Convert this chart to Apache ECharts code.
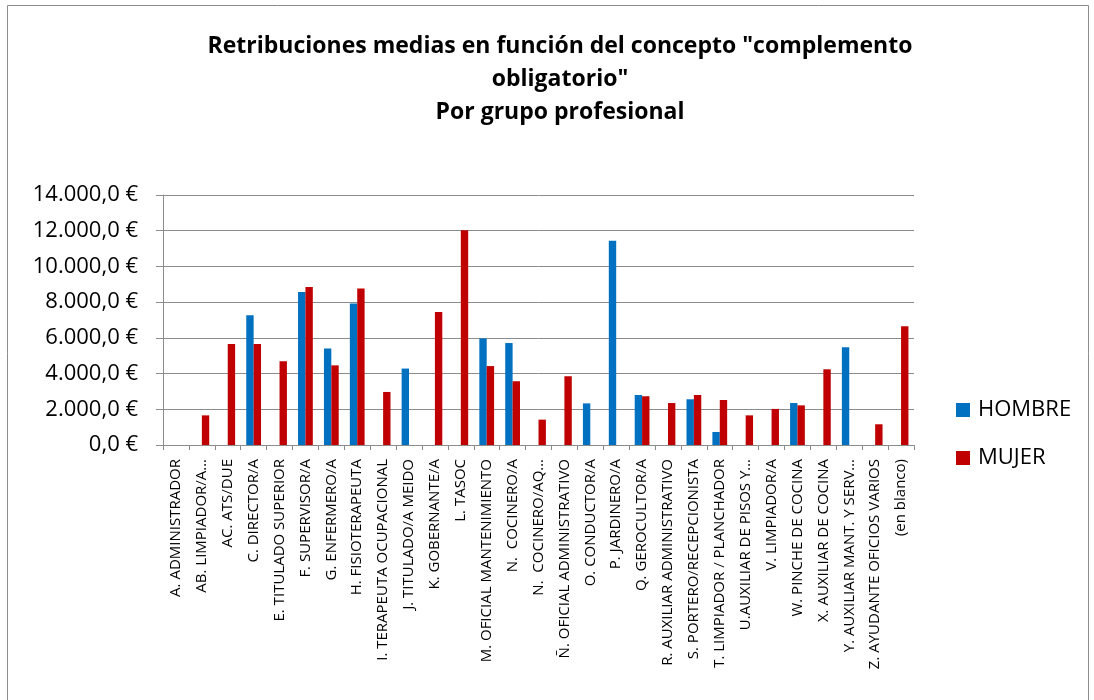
<!DOCTYPE html>
<html>
<head>
<meta charset="utf-8">
<script src="https://cdn.jsdelivr.net/npm/echarts@6/dist/echarts.min.js"></script>
<style>
  html, body { margin: 0; padding: 0; background: #ffffff; }
  #chart { width: 1094px; height: 700px; }
</style>
</head>
<body>
<div id="chart"></div>
<script>
// Grupos profesionales (eje de categorías)
const categories = [
  'A. ADMINISTRADOR',
  'AB. LIMPIADOR/A…',
  'AC. ATS/DUE',
  'C. DIRECTOR/A',
  'E. TITULADO SUPERIOR',
  'F. SUPERVISOR/A',
  'G. ENFERMERO/A',
  'H. FISIOTERAPEUTA',
  'I. TERAPEUTA OCUPACIONAL',
  'J. TITULADO/A MEIDO',
  'K. GOBERNANTE/A',
  'L. TASOC',
  'M. OFICIAL MANTENIMIENTO',
  'N.  COCINERO/A',
  'N.  COCINERO/AQ…',
  'Ñ. OFICIAL ADMINISTRATIVO',
  'O. CONDUCTOR/A',
  'P. JARDINERO/A',
  'Q. GEROCULTOR/A',
  'R. AUXILIAR ADMINISTRATIVO',
  'S. PORTERO/RECEPCIONISTA',
  'T. LIMPIADOR / PLANCHADOR',
  'U.AUXILIAR DE PISOS Y…',
  'V. LIMPIADOR/A',
  'W. PINCHE DE COCINA',
  'X. AUXILIAR DE COCINA',
  'Y. AUXILIAR MANT. Y SERV…',
  'Z. AYUDANTE OFICIOS VARIOS',
  '(en blanco)'
];

// Retribución media (€) por grupo y sexo
const hombre = [
  null, null, null, 7260, null, 8570, 5410, 7920, null, 4280,
  null, null, 5970, 5710, null, null, 2330, 11440, 2800, null,
  2560, 730, null, null, 2350, null, 5470, null, null
];
const mujer = [
  null, 1660, 5660, 5660, 4690, 8850, 4460, 8770, 2970, null,
  7450, 12020, 4420, 3570, 1420, 3850, null, null, 2730, 2350,
  2800, 2520, 1660, 2020, 2220, 4240, null, 1160, 6650
];

// Marcas del eje de valores
const yTicks = { min: 0, max: 14000, step: 2000 };

const seriesNames = ['HOMBRE', 'MUJER'];
const seriesColors = ['#0070C0', '#C00000'];

const FONT = '"Open Sans", Lato, sans-serif';

function euro(v) {
  const int = Math.round(v).toString().replace(/\B(?=(\d{3})+(?!\d))/g, '.');
  return int + ',0 €';
}

const chart = echarts.init(document.getElementById('chart'), null, { renderer: 'canvas' });

chart.setOption({
  backgroundColor: '#ffffff',
  animation: false,
  textStyle: { fontFamily: FONT },
  title: {
    text: 'Retribuciones medias en función del concepto "complemento\nobligatorio"\nPor grupo profesional',
    left: 555,
    top: 25,
    textAlign: 'center',
    textStyle: {
      fontFamily: FONT,
      fontSize: 23,
      fontWeight: 'bold',
      color: '#000000',
      lineHeight: 33,
      align: 'center'
    }
  },
  graphic: [{
    type: 'rect',
    shape: { x: 7.5, y: 5.5, width: 1081, height: 710 },
    style: { fill: 'none', stroke: '#8c8c8c', lineWidth: 1 },
    silent: true,
    z: -1
  }],
  legend: {
    orient: 'vertical',
    left: 956,
    top: 399,
    padding: 0,
    itemWidth: 14,
    itemHeight: 14,
    itemGap: 26,
    icon: 'rect',
    textStyle: { fontFamily: FONT, fontSize: 22, color: '#000000', padding: [0, 0, 0, 3] },
    data: seriesNames
  },
  grid: {
    left: 163,
    right: 180,
    top: 195,
    bottom: 255,
    containLabel: false
  },
  xAxis: {
    type: 'category',
    data: categories,
    axisLine: { show: true, lineStyle: { color: '#8c8c8c', width: 1 } },
    axisTick: { show: true, length: 5, lineStyle: { color: '#8c8c8c' } },
    axisLabel: {
      interval: 0,
      rotate: 90,
      margin: 14,
      fontFamily: FONT,
      fontSize: 15,
      color: '#000000'
    },
    splitLine: { show: false }
  },
  yAxis: {
    type: 'value',
    min: yTicks.min,
    max: yTicks.max,
    interval: yTicks.step,
    axisLine: { show: true, lineStyle: { color: '#8c8c8c', width: 1 } },
    axisTick: { show: true, length: 7, lineStyle: { color: '#8c8c8c' } },
    axisLabel: {
      fontFamily: FONT,
      fontSize: 22,
      color: '#000000',
      margin: 25,
      formatter: euro
    },
    splitLine: { show: true, lineStyle: { color: '#8c8c8c', width: 1 } }
  },
  series: [
    {
      name: seriesNames[0],
      type: 'bar',
      data: hombre,
      barGap: '0%',
      barCategoryGap: '43%',
      itemStyle: { color: seriesColors[0] }
    },
    {
      name: seriesNames[1],
      type: 'bar',
      data: mujer,
      barGap: '0%',
      barCategoryGap: '43%',
      itemStyle: { color: seriesColors[1] }
    }
  ]
});
</script>
</body>
</html>
